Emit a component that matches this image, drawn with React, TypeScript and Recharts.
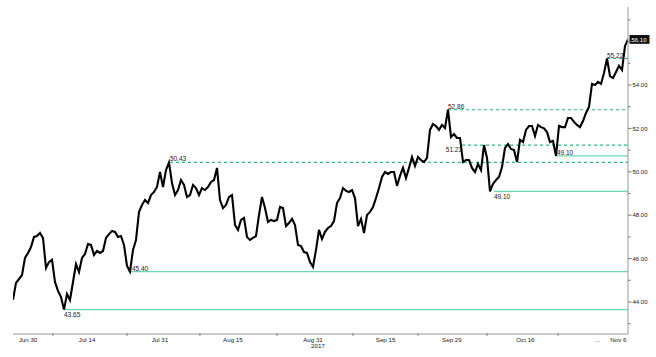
import React from 'react';
import { LineChart, Line, XAxis, YAxis, ReferenceLine, ReferenceDot } from 'recharts';

// Price series (evenly spaced intraday samples, Jun 28 – Nov 7 2017)
const prices = [
  44.1, 44.88, 45.06, 45.24, 46.03, 46.26, 46.53, 47.0, 47.04, 47.18,
  46.95, 45.57, 45.84, 45.95, 44.92, 44.51, 44.23, 43.65, 44.37, 44.09,
  44.92, 45.75, 45.38, 46.03, 46.21, 46.67, 46.63, 46.17, 46.35, 46.26,
  46.35, 46.95, 47.13, 47.27, 47.23, 47.0, 47.04, 46.63, 45.66, 45.4,
  46.4, 46.86, 48.15, 48.47, 48.7, 48.56, 48.93, 49.07, 49.3, 49.99,
  49.3, 50.08, 50.43, 49.48, 48.93, 49.16, 49.62, 49.39, 48.84, 48.93,
  49.39, 49.25, 48.93, 49.25, 49.16, 49.3, 49.53, 49.62, 50.18, 48.7,
  48.33, 48.47, 48.84, 48.93, 47.55, 47.32, 47.78, 47.87, 47.0, 46.86,
  46.95, 47.04, 48.01, 48.84, 48.33, 47.69, 47.78, 47.73, 47.78, 48.38,
  48.33, 47.5, 47.64, 47.83, 47.55, 46.63, 46.58, 46.3, 46.26, 45.84,
  45.62, 46.4, 47.32, 46.9, 47.23, 47.41, 47.5, 47.73, 48.56, 48.79,
  49.25, 49.12, 49.07, 49.16, 48.79, 47.5, 47.83, 47.18, 48.01, 48.15,
  48.38, 48.79, 49.25, 49.76, 49.99, 49.9, 49.99, 49.99, 49.35, 49.81,
  50.18, 49.71, 50.18, 50.68, 50.27, 50.68, 50.54, 50.45, 50.64, 51.93,
  52.2, 52.11, 51.93, 52.16, 52.02, 52.86, 51.6, 51.74, 51.56, 51.56,
  50.45, 50.54, 50.54, 50.18, 49.99, 50.36, 50.08, 51.23, 50.64, 49.1,
  49.44, 49.62, 49.76, 50.22, 51.1, 51.28, 51.05, 51.0, 50.45, 51.47,
  51.37, 51.93, 52.11, 52.11, 51.65, 52.16, 52.06, 52.0, 51.83, 51.37,
  51.42, 50.73, 52.11, 52.06, 52.06, 52.48, 52.48, 52.3, 52.16, 52.06,
  52.34, 52.71, 52.99, 54.05, 54.0, 54.14, 54.05, 54.55, 55.22, 54.41,
  54.32, 54.6, 54.88, 54.69, 55.8, 56.1,
];

// Date axis
const dateTickIdx = [5, 24.7, 49, 73.3, 100, 124.2, 146.3, 170.8, 194.8, 201.8];
const dateTickText = ['Jun 30', 'Jul 14', 'Jul 31', 'Aug 15', 'Aug 31', 'Sep 15', 'Sep 29', 'Oct 16', '...', 'Nov 6'];
const yearText = '2017';
const yearTickPos = 4;
const periodBoundaryIdx = [13.3, 38, 62.3, 88, 113.3, 135, 158, 181.7];

// Price axis (the 56.00 label sits under the last-price tag)
const priceTicks = [44, 46, 48, 50, 52, 54, 56];
const labeledPriceTicks = [44, 46, 48, 50, 52, 54];
const minorPriceTicks = [43, 45, 47, 49, 51, 53, 55, 57];
const priceDomain = [42.525, 57.594];

// Support levels (solid) and resistance levels (dashed)
const supportValues = [43.65, 45.4, 49.1, 50.73];
const supportFrom = [17, 38.3, 160.3, 181.3];
const supportText = ['43.65', '45.40', '49.10', '49.10'];
const resistanceValues = [50.43, 51.23, 52.86, 55.22];
const resistanceFrom = [52.3, 149.7, 145, 198];
const resistanceText = ['50.43', '51.23', '52.86', '55.22'];
const lastPrice = 56.1;
const lastPriceText = '56.10';

const data = prices.map((v, i) => ({ i, v }));
const lastIdx = prices.length - 1;

const FONT = '"Liberation Sans", Arial, sans-serif';

const DateTick = (props: any) => {
  const { x, y, payload } = props;
  const k = dateTickIdx.indexOf(payload.value);
  if (k < 0) {
    return <line x1={x} x2={x} y1={y - 1} y2={y + 2} stroke="#888" strokeWidth={1} />;
  }
  return (
    <g>
      <text x={x} y={y + 7.5} textAnchor="middle" fontSize={6.2} fill="#222" fontFamily={FONT}>
        {dateTickText[k]}
      </text>
      {k === yearTickPos && (
        <text x={x + 5} y={y + 13.5} textAnchor="middle" fontSize={6.2} fill="#222" fontFamily={FONT}>
          {yearText}
        </text>
      )}
    </g>
  );
};

const PriceTick = (props: any) => {
  const { x, y, payload } = props;
  const v = payload.value as number;
  const major = priceTicks.includes(v);
  return (
    <g>
      <line x1={x} x2={x + (major ? 3.5 : 2.5)} y1={y} y2={y} stroke="#777" strokeWidth={1} />
      {labeledPriceTicks.includes(v) && (
        <text x={x + 4.5} y={y + 2.2} fontSize={6} fill="#222" fontFamily={FONT}>
          {v.toFixed(2)}
        </text>
      )}
    </g>
  );
};

const makeLabel = (text: string, place: string) => (props: any) => {
  const vb = props.viewBox || {};
  const x = vb.x ?? 0;
  const y = vb.y ?? 0;
  let ty = y - 1;
  let anchor: 'start' | 'end' = 'start';
  let tx = x;
  if (place === 'aboveShift') tx = x + 4;
  if (place === 'below') ty = y + 7.2;
  if (place === 'belowLeft') {
    ty = y + 7;
    anchor = 'end';
  }
  return (
    <text x={tx} y={ty} textAnchor={anchor} fontSize={6.5} fill="#222" fontFamily={FONT}>
      {text}
    </text>
  );
};

const supportPlace = ['below', 'aboveShift', 'below', 'above'];
const resistancePlace = ['above', 'belowLeft', 'above', 'above'];

const LastTag = (props: any) => {
  const vb = props.viewBox || {};
  const cx = (vb.x ?? 0) + (vb.width ?? 0) / 2;
  const cy = (vb.y ?? 0) + (vb.height ?? 0) / 2;
  return (
    <g>
      <rect x={cx + 1.5} y={cy - 4.4} width={20} height={8.8} fill="#111" />
      <text x={cx + 3.5} y={cy + 2.2} fontSize={6} fill="#fff" fontFamily={FONT}>
        {lastPriceText}
      </text>
    </g>
  );
};

export default function App() {
  return (
    <div style={{ position: 'absolute', left: 0, top: 0, width: 656, height: 357, background: '#fff' }}>
      <LineChart width={656} height={357} data={data} margin={{ top: 7, right: 0, left: 13, bottom: 0 }}>
        <XAxis
          dataKey="i"
          type="number"
          domain={[0, lastIdx]}
          ticks={[...dateTickIdx, ...periodBoundaryIdx]}
          interval={0}
          tick={<DateTick />}
          tickLine={false}
          tickSize={0}
          tickMargin={0}
          height={23}
          axisLine={{ stroke: '#999' }}
          allowDataOverflow
        />
        <YAxis
          orientation="right"
          type="number"
          domain={priceDomain}
          ticks={[...minorPriceTicks, ...priceTicks].sort((a, b) => a - b)}
          interval={0}
          tick={<PriceTick />}
          tickLine={false}
          tickSize={0}
          tickMargin={0}
          width={28}
          axisLine={{ stroke: '#999' }}
          allowDataOverflow
        />
        {supportValues.map((v, k) => (
          <ReferenceLine
            key={'s' + k}
            segment={[{ x: supportFrom[k], y: v }, { x: lastIdx, y: v }]}
            stroke="#6cd6ae"
            strokeWidth={1.2}
            label={makeLabel(supportText[k], supportPlace[k])}
          />
        ))}
        {resistanceValues.map((v, k) => (
          <ReferenceLine
            key={'r' + k}
            segment={[{ x: resistanceFrom[k], y: v }, { x: lastIdx, y: v }]}
            stroke="#22b883"
            strokeWidth={1.2}
            strokeDasharray="3 3"
            label={makeLabel(resistanceText[k], resistancePlace[k])}
          />
        ))}
        <Line
          type="linear"
          dataKey="v"
          stroke="#000"
          strokeWidth={2.1}
          dot={false}
          isAnimationActive={false}
        />
        <ReferenceDot x={lastIdx} y={lastPrice} r={0} fill="none" stroke="none" label={LastTag} />
      </LineChart>
    </div>
  );
}
